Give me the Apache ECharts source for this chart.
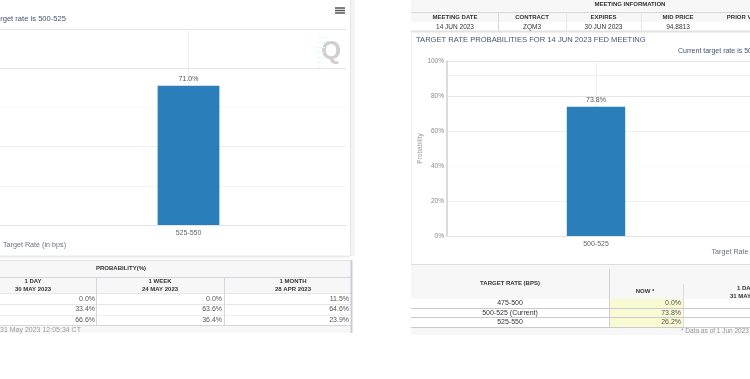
<!DOCTYPE html>
<html>
<head>
<meta charset="utf-8">
<style>
  html, body { margin: 0; padding: 0; background: #fff; }
  #chart { width: 750px; height: 379px; }
</style>
</head>
<body>
<div id="chart"></div>
<script src="https://cdn.jsdelivr.net/npm/echarts@6/dist/echarts.min.js"></script>
<script>
const leftCategories = ['500-525', '525-550']
const leftValues = [29.0, 71.0]
const rightCategories = ['500-525', '525-550']
const rightValues = [73.8, 26.2]
const yTicks = [0, 20, 40, 60, 80, 100]
const rightExtraLine = 92

const leftColumns = ['1 DAY', '1 WEEK', '1 MONTH']
const leftDates = ['30 MAY 2023', '24 MAY 2023', '28 APR 2023']
const leftRows = [
  ['0.0%', '0.0%', '11.5%'],
  ['33.4%', '63.6%', '64.6%'],
  ['66.6%', '36.4%', '23.9%']
]
const meetingLabels = ['MEETING DATE', 'CONTRACT', 'EXPIRES', 'MID PRICE', 'PRIOR VOLUME']
const meetingValues = ['14 JUN 2023', 'ZQM3', '30 JUN 2023', '94.8813']
const targetRates = ['475-500', '500-525 (Current)', '525-550']
const nowValues = ['0.0%', '73.8%', '26.2%']

const fontFamily = 'Liberation Sans, Arial, sans-serif'
const bodyColor = '#555'
const headColor = '#333'
const ruleColor = '#d5d7de'

let items = []

function rect (x, y, width, height, fill) {
  items.push({ type: 'rect', shape: { x, y, width, height }, style: { fill }, silent: true })
}
function rule (x1, y1, x2, y2, stroke, lineWidth) {
  items.push({
    type: 'line',
    shape: { x1, y1, x2, y2 },
    style: { stroke: stroke || ruleColor, lineWidth: lineWidth || 1 },
    silent: true
  })
}
function label (x, y, text, opts) {
  opts = opts || {}
  items.push({
    type: 'text',
    x,
    y,
    silent: true,
    style: {
      text,
      fill: opts.color || bodyColor,
      font: (opts.bold ? 'bold ' : '') + (opts.size || 7) + 'px ' + fontFamily,
      textAlign: opts.align || 'center',
      textVerticalAlign: 'middle'
    }
  })
}

// left panel frame
rect(350, 0, 5, 256, '#f3f3f3')
rule(350.5, 0, 350.5, 256, '#e6e6e6')
rule(0, 256.5, 350, 256.5, '#ececec', 2)

// left probability table
rect(0, 260, 351, 33, '#f7f7f7')
rect(0, 326, 351, 7, '#f7f7f7')
rule(0, 260.5, 351, 260.5, '#e4e4e4')
rule(0, 277.5, 351, 277.5)
rule(0, 293.5, 351, 293.5, '#e4e6ea')
rule(0, 304.5, 351, 304.5, '#e4e6ea')
rule(0, 315.5, 351, 315.5, '#eceef2')
rule(0, 325.5, 351, 325.5)
rule(96.5, 277, 96.5, 326)
rule(224.5, 277, 224.5, 326)
rule(351.5, 260, 351.5, 333, '#c9ccd4', 2)
label(121, 268.5, 'PROBABILITY(%)', { bold: true, size: 6, color: headColor })
const leftColCenter = [33, 160, 293]
const leftColRight = [95, 222, 349]
const leftRowY = [299, 309.5, 320]
leftColumns.forEach(function (name, i) {
  label(leftColCenter[i], 281.5, name, { bold: true, size: 6, color: headColor })
  label(leftColCenter[i], 289, leftDates[i], { bold: true, size: 6, color: headColor })
  leftRows.forEach(function (row, r) {
    label(leftColRight[i], leftRowY[r], row[i], { align: 'right', size: 7 })
  })
})
label(0, 330, '31 May 2023 12:05:34 CT', { align: 'left', size: 7, color: '#999' })

// right top table
rect(411, 0, 339, 22, '#f7f7f7')
rule(411, 12.5, 750, 12.5)
rule(411, 31.5, 750, 31.5, '#e2e2e2', 2)
const meetingLines = [498.5, 566.5, 641.5]
meetingLines.forEach(function (x, i) {
  rule(x, 13, x, 31, i === 0 ? ruleColor : '#e4e6ea')
})
label(630, 4.5, 'MEETING INFORMATION', { bold: true, size: 6, color: headColor })
const meetingX = [455, 532, 603.5, 678, 750]
meetingLabels.forEach(function (name, i) {
  label(meetingX[i], 17.5, name, { bold: true, size: 6, color: headColor })
})
meetingValues.forEach(function (value, i) {
  label(meetingX[i], 27, value, { size: 6.5, color: headColor })
})
label(416, 40, 'TARGET RATE PROBABILITIES FOR 14 JUN 2023 FED MEETING', { align: 'left', size: 7.6, color: '#44566c' })
label(678, 51.5, 'Current target rate is 500-525', { align: 'left', size: 7, color: '#44566c' })
rule(411.5, 32, 411.5, 264, '#f2f2f2')

// right bottom table
rect(411, 265, 339, 34, '#f7f7f7')
rect(411, 328, 339, 7, '#f7f7f7')
rule(411, 264.5, 750, 264.5, '#dddddd')
rule(609.5, 269, 609.5, 327, '#d0d2d8')
rule(683.5, 284, 683.5, 327, '#dcdde2')
rect(610, 299, 73, 28, '#fafad2')
rule(411, 308.5, 750, 308.5, '#c8cad2')
rule(411, 317.5, 750, 317.5, '#c8cad2')
rule(411, 327.5, 750, 327.5, '#c8cad2')
label(510, 283, 'TARGET RATE (BPS)', { bold: true, size: 6, color: headColor })
label(645, 291, 'NOW *', { bold: true, size: 6, color: headColor })
label(737, 288, '1 DAY', { align: 'left', bold: true, size: 6, color: headColor })
label(730, 296, '31 MAY 2023', { align: 'left', bold: true, size: 6, color: headColor })
const rightRowY = [303.5, 313, 322]
targetRates.forEach(function (name, i) {
  label(510, rightRowY[i], name, { size: 7, color: headColor })
  label(681, rightRowY[i], nowValues[i], { align: 'right', size: 7 })
})
label(681, 331, '* Data as of 1 Jun 2023 00:44:16 CT', { align: 'left', size: 6.5, color: '#999' })

// left panel header bits
label(66, 19, 'Current target rate is 500-525', { align: 'right', size: 7.6, color: '#44566c' })
rule(335, 8, 345, 8, '#555', 1.5)
rule(335, 10.5, 345, 10.5, '#555', 1.5)
rule(335, 13, 345, 13, '#555', 1.5)
label(331, 52, 'Q', { bold: true, size: 26, color: '#cfcfcf' })
const hatchY = [37, 42, 47, 52, 57, 62, 67]
hatchY.forEach(function (y, i) {
  rule(315 + Math.abs(3 - i), y + 0.5, 327 - i, y + 0.5, '#e8f9fc')
})

function panelSeries (values, markLineData) {
  return {
    type: 'bar',
    data: values,
    barWidth: '19.6%',
    z: 2,
    itemStyle: { color: '#2a7fba' },
    label: {
      show: true,
      position: 'top',
      distance: 3,
      fontSize: 7,
      color: '#555',
      fontFamily,
      formatter: function (p) { return p.value.toFixed(1) + '%' }
    },
    markLine: {
      silent: true,
      symbol: 'none',
      z: 1,
      animation: false,
      label: { show: false },
      lineStyle: { color: '#efefef', width: 1, type: 'solid' },
      data: markLineData
    }
  }
}

function xAxisFor (categories, nameGap, namePadding) {
  return {
    type: 'category',
    data: categories,
    name: 'Target Rate (in bps)',
    nameLocation: 'middle',
    nameGap,
    nameTextStyle: { fontSize: 7.2, color: '#6b7280', fontFamily, padding: namePadding },
    axisTick: { show: false },
    axisLine: { lineStyle: { color: '#e4e4e4' } },
    axisLabel: { fontSize: 7, color: '#666', margin: 5, fontFamily }
  }
}

function yAxisFor (colors, name) {
  return {
    type: 'value',
    min: yTicks[0],
    max: yTicks[yTicks.length - 1],
    interval: yTicks[1] - yTicks[0],
    name,
    nameLocation: 'middle',
    nameGap: 23,
    nameMoveOverlap: false,
    nameTextStyle: { fontSize: 6.5, color: '#999', fontFamily },
    axisLine: { show: true, lineStyle: { color: '#cfcfcf', width: 1.5 } },
    axisTick: { show: false },
    splitLine: { lineStyle: { color: colors } },
    axisLabel: {
      fontSize: 6.5,
      color: '#888',
      margin: 3,
      fontFamily,
      formatter: '{value}%'
    }
  }
}

const myChart = echarts.init(document.getElementById('chart'), null, { renderer: 'canvas' })
myChart.setOption({
  animation: false,
  backgroundColor: '#fff',
  grid: [
    { left: -284, width: 630, top: 29, height: 196, outerBoundsMode: 'none' },
    { left: 447, width: 596, top: 61, height: 175, outerBoundsMode: 'none' }
  ],
  xAxis: [
    Object.assign(xAxisFor(leftCategories, 10, [0, 0, 0, 7]), { gridIndex: 0 }),
    Object.assign(xAxisFor(rightCategories, 12.5, [0, 4, 0, 0]), { gridIndex: 1 })
  ],
  yAxis: [
    Object.assign(yAxisFor(['#e8e8e8', '#f4f4f4', '#eeeeee', '#f8f8f8', '#e4e4e4', '#e4e4e4'], ''), { gridIndex: 0 }),
    Object.assign(yAxisFor(['#e4e4e4', '#eeeeee', '#fbfbfb', '#eeeeee', '#e4e4e4', '#e4e4e4'], 'Probability'), { gridIndex: 1 })
  ],
  series: [
    Object.assign(panelSeries(leftValues, [{ xAxis: leftCategories[1] }]), { xAxisIndex: 0, yAxisIndex: 0 }),
    Object.assign(panelSeries(rightValues, [{ xAxis: rightCategories[0] }, { yAxis: rightExtraLine }]), { xAxisIndex: 1, yAxisIndex: 1 })
  ],
  graphic: { elements: items }
})
</script>
</body>
</html>
